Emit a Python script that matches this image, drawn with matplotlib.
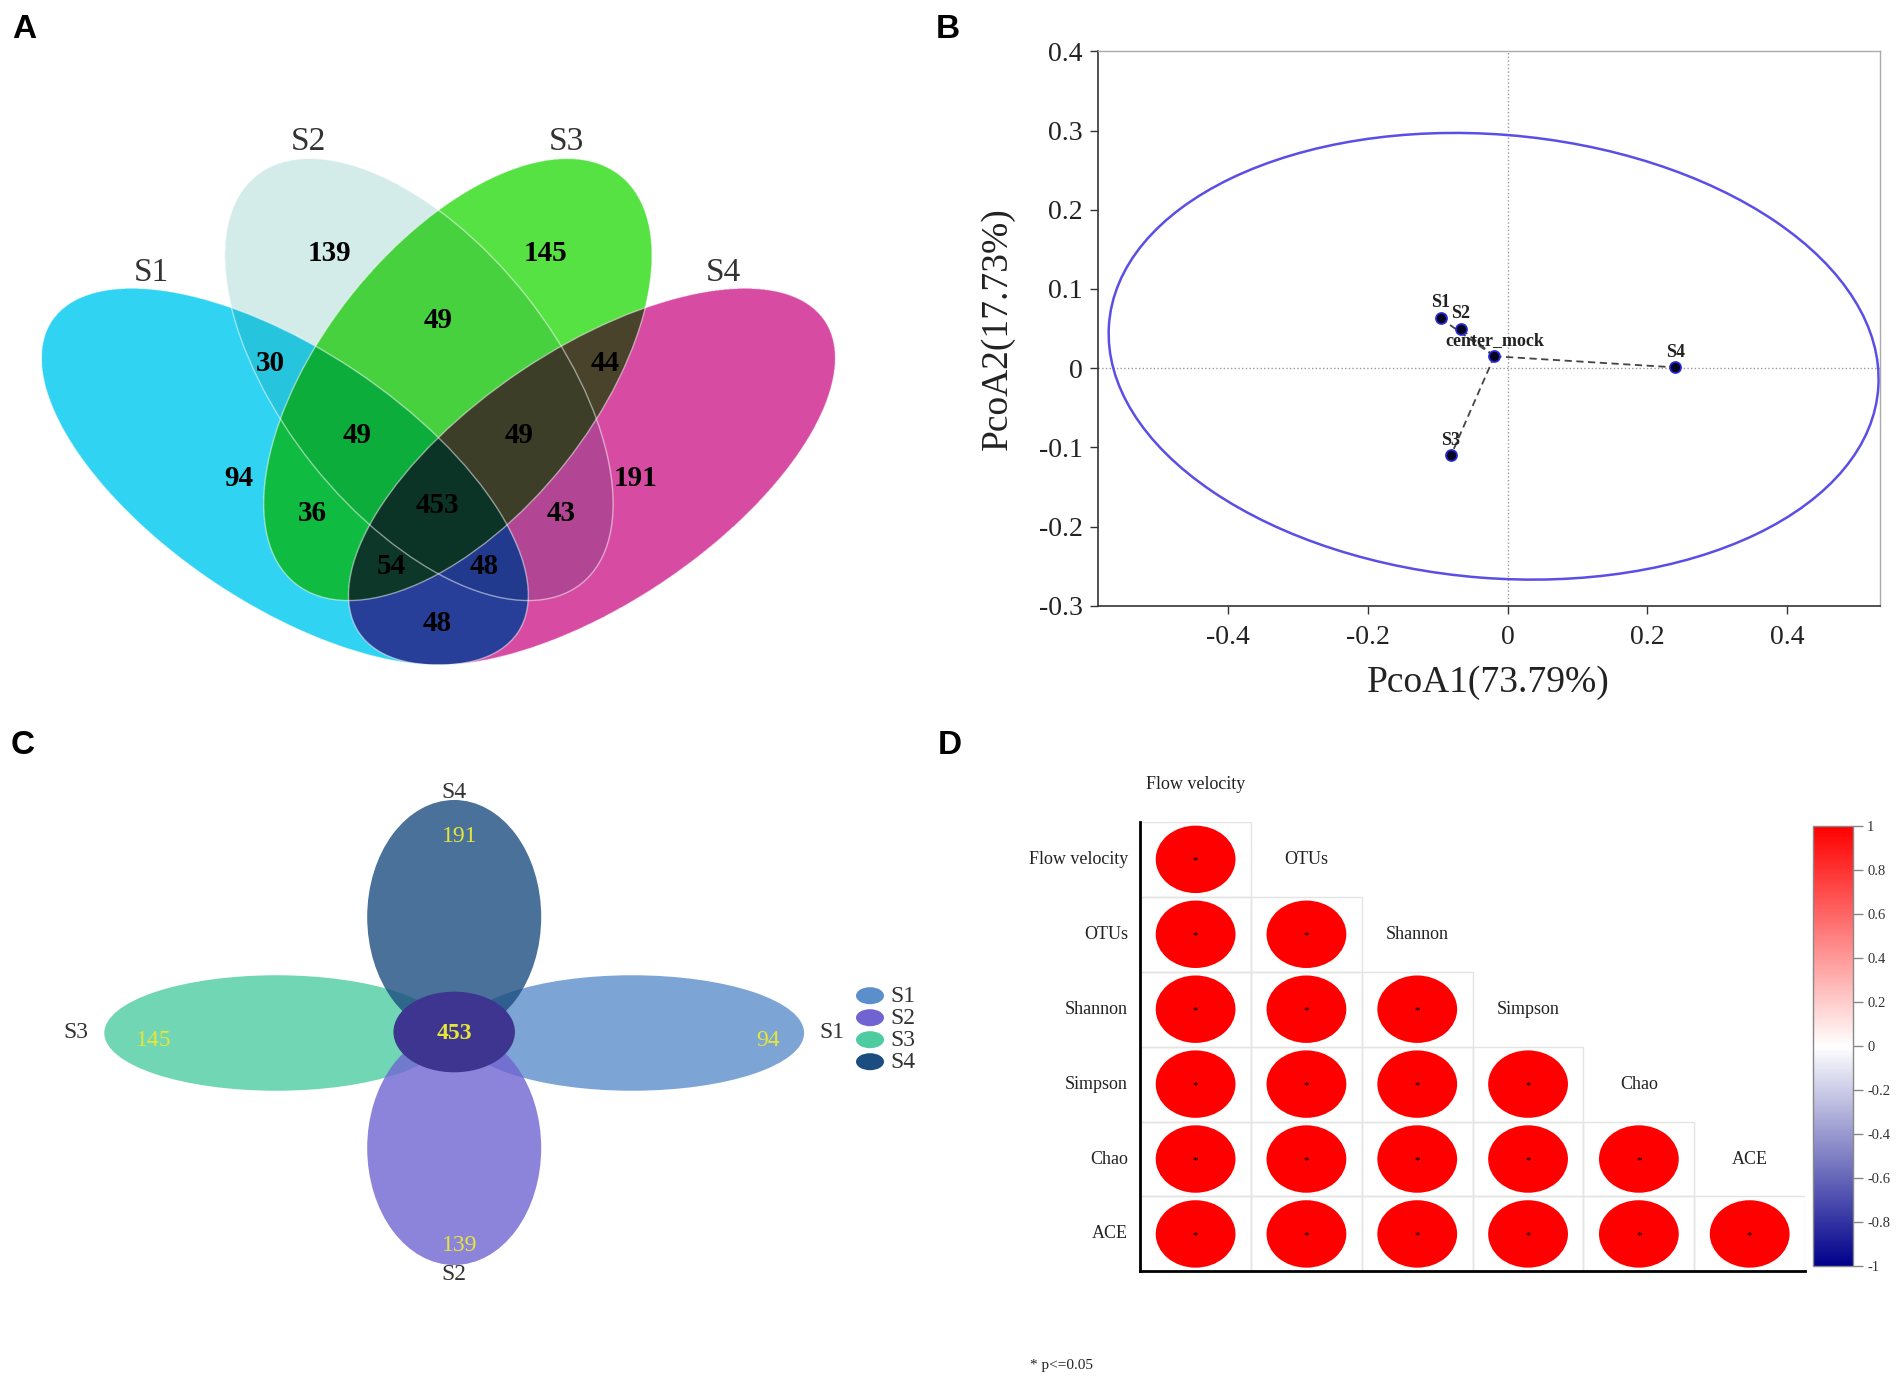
"""
Four-panel figure: Venn diagram, PCoA, flower plot and correlation matrix.
"""

import numpy as np
import matplotlib.pyplot as plt
from matplotlib.patches import Ellipse, Rectangle
from matplotlib.colors import LinearSegmentedColormap, Normalize
from matplotlib.cm import ScalarMappable

W, H = 1904, 1383

# ---------------- data ----------------
# A: four-set Venn, region counts (membership key S1 S2 S3 S4)
venn_sets = ['S1', 'S2', 'S3', 'S4']
venn_regions = ['1000', '0100', '0010', '0001', '0110', '1100', '0011', '1110',
                '0111', '1010', '1111', '0101', '1011', '1101', '1001']
venn_counts = [94, 139, 145, 191, 49, 30, 44, 49, 49, 36, 453, 43, 54, 48, 48]

# B: PCoA coordinates
pcoa_samples = ['S1', 'S2', 'S3', 'S4']
pcoa1 = [-0.096, -0.067, -0.081, 0.240]
pcoa2 = [0.063, 0.050, -0.110, 0.001]
centroid_name = 'center_mock'
centroid_xy = (-0.019, 0.015)
conf_center = (-0.020, 0.015)
conf_width, conf_height, conf_angle = 1.104, 0.560, -4.0
pc1_label = 'PcoA1(73.79%)'
pc2_label = 'PcoA2(17.73%)'

# C: flower plot
flower_sets = ['S1', 'S2', 'S3', 'S4']
flower_unique = [94, 139, 145, 191]
flower_core = 453
flower_colors = ['#5b8fcb', '#7064d2', '#4dcca0', '#1c4d80']

# D: correlation matrix (lower triangle) and significance
corr_vars = ['Flow velocity', 'OTUs', 'Shannon', 'Simpson', 'Chao', 'ACE']
corr_r = [[1.0],
          [1.0, 1.0],
          [1.0, 1.0, 1.0],
          [1.0, 1.0, 1.0, 1.0],
          [1.0, 1.0, 1.0, 1.0, 1.0],
          [1.0, 1.0, 1.0, 1.0, 1.0, 1.0]]
corr_sig = [[True],
            [True, True],
            [True, True, True],
            [True, True, True, True],
            [True, True, True, True, True],
            [True, True, True, True, True, True]]
cbar_ticks = [-1, -0.8, -0.6, -0.4, -0.2, 0, 0.2, 0.4, 0.6, 0.8, 1]
cbar_labels = ['-1', '-0.8', '-0.6', '-0.4', '-0.2', '0', '0.2', '0.4', '0.6', '0.8', '1']

# ---------------- style ----------------
plt.rcParams['axes.unicode_minus'] = False
plt.rcParams['font.family'] = ['Liberation Serif', 'DejaVu Serif']
SANS = ['Liberation Sans Narrow', 'Liberation Sans', 'DejaVu Sans']

fig = plt.figure(figsize=(W / 100, H / 100), dpi=100)
canvas = fig.add_axes([0, 0, 1, 1])
canvas.axis('off')

def fig_rect(x0, y0, x1, y1):
    """pixel box (top-left origin) -> figure fraction rect"""
    return [x0 / W, 1 - y1 / H, (x1 - x0) / W, (y1 - y0) / H]

# panel letters
for letter, (px, py) in zip('ABCD', [(24, 29), (948, 29), (23, 745), (950, 745)]):
    canvas.text(px, py, letter, fontsize=24, fontweight='bold', family=SANS,
                ha='center', va='center')

# ---------------- A: Venn (multiply blending) ----------------
venn_shapes = [  # cx, cy, semi-a, semi-b, angle, rgb
    (284.8, 476.6, 280.4, 127.3, 33.8, (48, 212, 242)),
    (418.9, 379.5, 260.9, 136.1, 51.5, (212, 236, 234)),
    (457.9, 379.5, 260.9, 136.1, 128.5, (87, 226, 69)),
    (592.0, 476.6, 280.4, 127.3, 146.2, (216, 76, 162)),
]
xs = np.arange(0, 880, 0.5) + 0.25
ys = np.arange(120, 690, 0.5) + 0.25
X, Y = np.meshgrid(xs, ys)
img = np.ones(X.shape + (4,))
img[..., 3] = 0
for cx, cy, a, b, ang, rgb in venn_shapes:
    t = np.deg2rad(ang)
    u = (X - cx) * np.cos(t) + (Y - cy) * np.sin(t)
    v = -(X - cx) * np.sin(t) + (Y - cy) * np.cos(t)
    m = (u / a) ** 2 + (v / b) ** 2 <= 1
    img[m, :3] *= np.array(rgb) / 255
    img[m, 3] = 1
canvas.imshow(img, extent=(0, 880, 690, 120), interpolation='antialiased',
              aspect='auto', zorder=1)
for cx, cy, a, b, ang, rgb in venn_shapes:
    canvas.add_patch(Ellipse((cx, cy), 2 * a, 2 * b, angle=ang, fill=False,
                             ec='white', lw=1, alpha=0.5, zorder=2))

venn_set_pos = [(151.8, 272.3), (308.4, 142), (566.5, 142), (723.7, 272.3)]
for name, (px, py) in zip(venn_sets, venn_set_pos):
    canvas.text(px, py, name, fontsize=24, color='#333333', ha='center', va='center')

venn_label_pos = {
    '1000': (238.6, 479), '0100': (329.7, 253.1), '0010': (545.2, 253.1),
    '0001': (635.7, 479), '0110': (438.4, 320.5), '1100': (270.2, 363.8),
    '0011': (605.3, 363.8), '1110': (357, 435.3), '0111': (519.1, 435.3),
    '1010': (312.7, 513.4), '1111': (437.2, 505.8), '0101': (561.6, 513.4),
    '1011': (391.6, 567), '1101': (483.9, 567), '1001': (437.2, 623.7),
}
for key, n in zip(venn_regions, venn_counts):
    px, py = venn_label_pos[key]
    canvas.text(px, py, str(n), fontsize=21, fontweight='bold', color='black',
                ha='center', va='center', zorder=3)

# ---------------- B: PCoA ----------------
bax = fig.add_axes(fig_rect(1097.7, 51.3, 1879.7, 605.8))
bax.set_xlim(-0.5867, 0.5326)
bax.set_ylim(-0.3, 0.4)
bax.axhline(0, color='#999999', ls=':', lw=1, zorder=1)
bax.axvline(0, color='#999999', ls=':', lw=1, zorder=1)
bax.add_patch(Ellipse(conf_center, conf_width, conf_height, angle=conf_angle,
                      fill=False, ec='#5b4ee6', lw=1.8, zorder=2))
for x, y in zip(pcoa1, pcoa2):
    bax.plot([centroid_xy[0], x], [centroid_xy[1], y], color='#444444',
             lw=1.3, dashes=(4, 2.5), zorder=3)
all_x = pcoa1 + [centroid_xy[0]]
all_y = pcoa2 + [centroid_xy[1]]
all_names = pcoa_samples + [centroid_name]
bax.plot(all_x, all_y, 'o', ms=8, mfc='#050522', mec='#2a2ae0', mew=1.2, zorder=4)
for name, x, y in zip(all_names, all_x, all_y):
    bax.annotate(name, (x, y), xytext=(0, 11), textcoords='offset points',
                 ha='center', va='center', fontsize=13, fontweight='bold',
                 color='#222222', zorder=5)
bax.set_xticks([-0.4, -0.2, 0, 0.2, 0.4])
bax.set_xticklabels(['-0.4', '-0.2', '0', '0.2', '0.4'])
bax.set_yticks([-0.3, -0.2, -0.1, 0, 0.1, 0.2, 0.3, 0.4])
bax.set_yticklabels(['-0.3', '-0.2', '-0.1', '0', '0.1', '0.2', '0.3', '0.4'])
bax.tick_params(direction='out', length=6, width=1, color='#333333',
                labelsize=20, labelcolor='#222222')
bax.tick_params(axis='x', pad=8)
bax.tick_params(axis='y', pad=5)
for side in ['left', 'bottom']:
    bax.spines[side].set_color('#333333')
    bax.spines[side].set_linewidth(1.2)
for side in ['top', 'right']:
    bax.spines[side].set_color('#aaaaaa')
    bax.spines[side].set_linewidth(1)
bax.set_xlabel(pc1_label, fontsize=27, color='#222222', va='center')
bax.xaxis.set_label_coords(0.5, -0.139)
bax.set_ylabel(pc2_label, fontsize=27, color='#222222', va='center')
bax.yaxis.set_label_coords(-0.128, 0.5)

# ---------------- C: flower plot ----------------
petal_geom = {  # cx, cy, width, height (pixels)
    'S1': (632.1, 1033, 344, 115.5),
    'S2': (454.2, 1148, 174, 234),
    'S3': (276.3, 1033, 344, 115.5),
    'S4': (454.2, 917, 174, 234),
}
for name in ['S3', 'S1', 'S4', 'S2']:
    col = flower_colors[flower_sets.index(name)]
    cx, cy, w, h = petal_geom[name]
    canvas.add_patch(Ellipse((cx, cy), w, h, fc=col, ec='none', alpha=0.8, zorder=2))
canvas.add_patch(Ellipse((454.2, 1032), 121.5, 80.6, fc='#3d3590', ec='none', zorder=3))

flower_name_pos = {'S1': (831.7, 1033), 'S2': (454.2, 1275), 'S3': (75.9, 1033),
                   'S4': (454.2, 792.3)}
flower_num_pos = {'S1': (768, 1041), 'S2': (459.6, 1245.3), 'S3': (153.6, 1041),
                  'S4': (459.6, 836.3)}
for name, n in zip(flower_sets, flower_unique):
    canvas.text(*flower_name_pos[name], name, fontsize=17, color='#333333',
                ha='center', va='center', zorder=4)
    canvas.text(*flower_num_pos[name], str(n), fontsize=17, color='#e5e53a',
                ha='center', va='center', zorder=4)
canvas.text(454.2, 1033.2, str(flower_core), fontsize=17, fontweight='bold',
            color='#e5e53a', ha='center', va='center', zorder=4)

for k, (name, col) in enumerate(zip(flower_sets, flower_colors)):
    ly = 995.7 + k * 22
    canvas.add_patch(Ellipse((870, ly), 28, 17, fc=col, ec='none', zorder=3))
    canvas.text(890.7, ly + 1, name, fontsize=17, color='#333333',
                ha='left', va='center')

# ---------------- D: correlation matrix ----------------
dax = fig.add_axes(fig_rect(1140.2, 821.9, 1805.1, 1271.4))
dax.set_xlim(0, 6)
dax.set_ylim(6, 0)
dax.axis('off')
cmap = LinearSegmentedColormap.from_list('bwr_corr', ['#00008b', 'white', '#ff0000'])
norm = Normalize(-1, 1)
n_vars = len(corr_vars)
for i in range(n_vars):
    for j in range(i + 1):
        r = corr_r[i][j]
        dax.add_patch(Rectangle((j, i), 1, 1, fill=False, ec='#e4e4e4', lw=1))
        s = np.sqrt(abs(r))
        dax.add_patch(Ellipse((j + 0.5, i + 0.5), 0.72 * s, 0.9 * s,
                              fc=cmap(norm(r)), ec='none'))
        if corr_sig[i][j]:
            dax.text(j + 0.5, i + 0.52, '*', fontsize=8, ha='center', va='center')
dax.plot([0, 0], [0, n_vars], color='black', lw=2, clip_on=False)
dax.plot([0, n_vars], [n_vars, n_vars], color='black', lw=2, clip_on=False)
for i, name in enumerate(corr_vars):
    dax.text(-0.11, i + 0.5, name, fontsize=13, ha='right', va='center', color='#222222')
    dax.text(i + 0.5, i - 0.5, name, fontsize=13, ha='center', va='center', color='#222222')

cax = fig.add_axes(fig_rect(1813.3, 826.3, 1853.3, 1266.2))
cb = fig.colorbar(ScalarMappable(norm=norm, cmap=cmap), cax=cax, ticks=cbar_ticks)
cb.set_ticklabels(cbar_labels)
cb.outline.set_edgecolor('#888888')
cb.outline.set_linewidth(1)
cax.tick_params(length=7, width=1, color='#888888', labelsize=10.5,
                labelcolor='#333333', pad=3)

canvas.text(1062, 1366, '* p<=0.05', fontsize=11, ha='center', va='center',
            color='#222222')

canvas.set_xlim(0, W)
canvas.set_ylim(H, 0)

fig.savefig('out.png', dpi=100)
